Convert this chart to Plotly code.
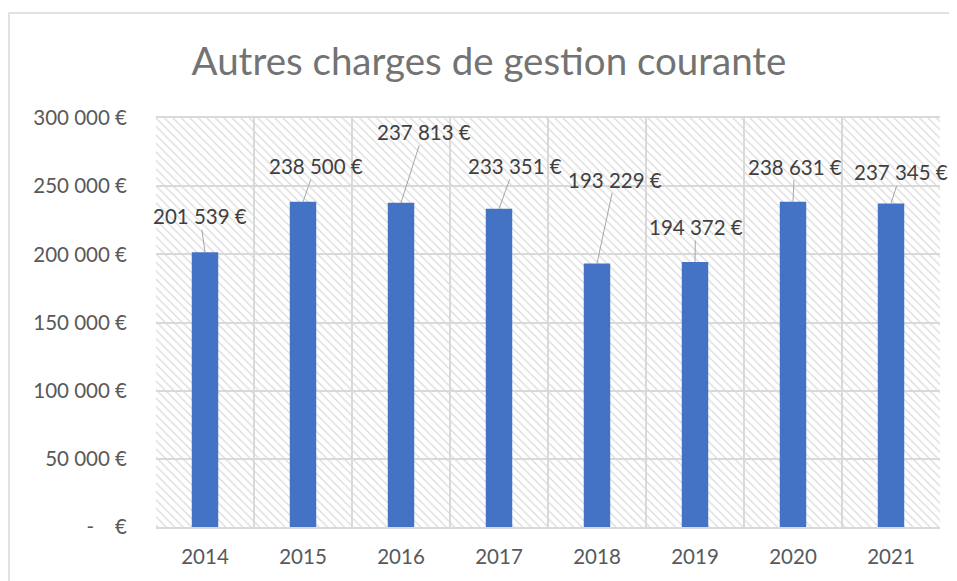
import plotly.graph_objects as go

years = ["2014", "2015", "2016", "2017", "2018", "2019", "2020", "2021"]
values = [201539, 238500, 237813, 233351, 193229, 194372, 238631, 237345]
labels = ["201 539 €", "238 500 €", "237 813 €", "233 351 €",
          "193 229 €", "194 372 €", "238 631 €", "237 345 €"]
# label offsets (pixels) for the leader-line labels
label_dx = [-5, 12.5, 22.5, 15.5, 18, 0.5, 1.5, 10]
label_dy = [-36, -36, -71, -43, -84, -35, -35, -31]
ytick_vals = [0, 50000, 100000, 150000, 200000, 250000, 300000]
ytick_text = ["-\u00a0\u00a0\u00a0\u00a0€", "50\u00a0000\u00a0€", "100\u00a0000\u00a0€",
              "150\u00a0000\u00a0€", "200\u00a0000\u00a0€", "250\u00a0000\u00a0€",
              "300\u00a0000\u00a0€"]
y_max = 300000

FONT = "Lato"
W, H = 949, 573          # page body has an 8px margin
L, R, T, B = 148, 17, 110, 54
PW, PH = W - L - R, H - T - B

fig = go.Figure()

# hatched plot background
fig.add_trace(go.Bar(
    x=years, y=[y_max] * len(years), width=1,
    marker=dict(color="rgba(0,0,0,0)", line=dict(width=0),
                pattern=dict(shape="\\", fgcolor="#d9d9d9", size=6, solidity=0.2,
                             fillmode="replace")),
    hoverinfo="skip", showlegend=False,
))

fig.add_trace(go.Bar(
    x=years, y=values, width=0.27,
    marker=dict(color="#4472C4", line=dict(width=0)),
    showlegend=False,
))

for i, (v, t, dx, dy) in enumerate(zip(values, labels, label_dx, label_dy)):
    fig.add_annotation(
        x=i, y=v, text=t.replace(" ", "\u00a0"), showarrow=True, arrowhead=0,
        arrowwidth=1, arrowcolor="#a6a6a6", ax=dx, ay=dy, standoff=0,
        font=dict(family=FONT, size=20.5, color="#404040"),
    )

# chart-area border (partially cropped)
fig.add_shape(type="rect", xref="paper", yref="paper",
              x0=(1 - L) / PW, x1=1.1, y0=-0.2, y1=(T + PH - 5) / PH,
              line=dict(color="#d9d9d9", width=1.5), fillcolor="rgba(0,0,0,0)",
              layer="below")

fig.update_layout(
    width=W, height=H,
    margin=dict(l=L, r=R, t=T, b=B, autoexpand=False),
    paper_bgcolor="white", plot_bgcolor="white",
    barmode="overlay",
    title=dict(text="Autres charges de gestion courante", x=481 / W,
               xanchor="center", y=0.907, yanchor="middle",
               font=dict(family=FONT, size=38.5, color="#737373")),
    xaxis=dict(type="category", range=[-0.5, 7.5], autorange=False,
               tickson="boundaries", showgrid=True, automargin=False,
               gridcolor="#d9d9d9", gridwidth=1.5, showline=True, mirror=True,
               linecolor="#d9d9d9", linewidth=1.5, ticks="", ticklabelstandoff=11,
               tickangle=0,
               tickfont=dict(family=FONT, size=20.5, color="#595959")),
    yaxis=dict(range=[0, y_max], autorange=False, tickvals=ytick_vals,
               ticktext=ytick_text, automargin=False,
               showgrid=True, gridcolor="#d9d9d9", gridwidth=1.5, zeroline=False,
               showline=False, ticks="", ticklabelstandoff=28,
               tickfont=dict(family=FONT, size=20.5, color="#595959")),
    font=dict(family=FONT),
)

fig.write_html("out.html")
